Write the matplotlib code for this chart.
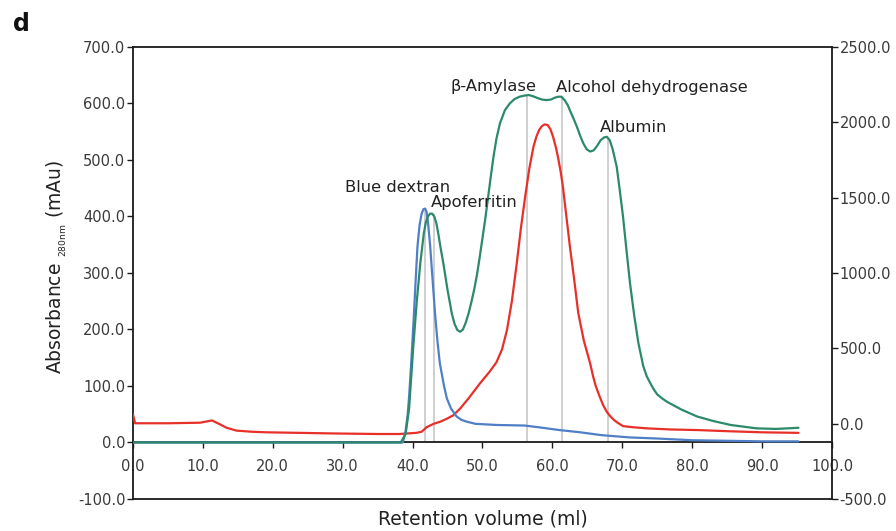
import matplotlib
matplotlib.use("Agg")
import matplotlib.pyplot as plt
from matplotlib.ticker import FormatStrFormatter

plt.rcParams['font.family'] = ['DejaVu Sans']
plt.rcParams['mathtext.fontset'] = 'dejavusans'

# ---- data (left-axis units, mAu) ----
blue_x = [0, 20, 38.6, 39.0, 39.3, 39.5, 39.85, 40.2, 40.45, 40.7, 41.0, 41.3, 41.55, 41.8,
          42.0, 42.2, 42.5, 42.85, 43.2, 43.55, 43.9, 44.5, 44.9, 45.5, 46.3, 47.0, 47.7,
          49, 52, 56, 58, 61, 64, 67, 71, 75, 80, 85, 90, 95.2]
blue_y = [0, 0, 0, 20, 50, 81, 150, 229, 290, 347, 385, 405, 413, 414,
          408, 390, 350, 290, 230, 180, 140, 100, 78, 60, 46, 40, 37,
          33, 31, 30, 27, 22, 18, 13, 9, 7, 4, 3, 2, 2]

green_x = [0, 38.3, 39.0, 39.5, 40.1, 40.6, 41.1, 41.6, 41.9, 42.2, 42.5, 42.8, 43.1, 43.4,
           43.7, 44.0, 44.4, 45.0, 45.6, 46.0, 46.4, 46.8, 47.2, 47.6, 48.0, 48.4, 48.8,
           49.2, 49.6, 50.0, 50.4, 50.8, 51.2, 51.6, 52.0, 52.5, 53.2, 53.9, 54.6, 55.3,
           56.0, 56.6, 57.2, 57.8, 58.5, 59.2, 59.8, 60.3, 60.8, 61.3, 61.8, 62.2, 62.5,
           63.0, 63.5, 64.0, 64.4, 64.9, 65.4, 65.9, 66.4, 66.9, 67.4, 67.8, 68.2, 68.6,
           69.2, 69.6, 70.1, 70.6, 71.1, 71.7, 72.3, 73.0, 73.5, 74.0, 74.5, 75.0, 75.7,
           76.4, 78.5, 80.7, 83, 85.5, 89.2, 92, 95.2]
green_y = [0, 0, 15, 60, 170, 250, 317, 370, 390, 400, 405, 405, 400, 388,
           368, 345, 317, 270, 229, 210, 199, 196, 200, 212, 228, 248, 270,
           296, 328, 362, 396, 434, 472, 508, 538, 565, 588, 600, 608, 612,
           614, 615, 613, 610, 607, 606, 607, 610, 612, 612, 605, 597, 588,
           574, 559, 542, 530, 519, 515, 517, 525, 535, 540, 541, 535, 520,
           488, 450, 400, 340, 282, 225, 176, 135, 117, 105, 94, 85, 78,
           72, 58, 46, 38, 31, 25, 24, 26]

red_x = [0, 0.3, 5, 9.6, 11.3, 12.3, 13.4, 14.8, 17, 19.1, 24, 28.6, 35, 38.1, 40.5, 41.3,
         42.0, 43.0, 44.0, 44.9, 45.8, 46.8, 48.0, 49.6, 51.0, 52.0, 52.8, 53.5, 54.2, 54.9,
         55.5, 56.1, 56.7, 57.3, 57.7, 58.1, 58.5, 58.9, 59.3, 59.7, 60.1, 60.5, 60.8, 61.2,
         61.5, 62.0, 62.5, 63.1, 63.7, 64.5, 65.4, 65.8, 66.2, 66.8, 67.3, 67.8, 68.3, 68.8,
         69.2, 69.7, 70.1, 70.8, 71.5, 73.5, 77, 80.7, 85, 90, 95.2]
red_y = [50, 34, 34, 35, 39, 33, 26, 21, 19, 18, 17, 16, 15, 15, 17, 19,
         27, 33, 37, 42, 48, 60, 78, 104, 125, 142, 165, 199, 250, 317,
         380, 435, 485, 524, 541, 553, 560, 563, 562, 555, 541, 522, 505, 478,
         453, 400, 347, 290, 229, 180, 140, 118, 100, 80, 65, 54, 46, 40,
         36, 32, 29, 28, 27, 25, 23, 22, 20, 18, 17]

marker_names = ["Blue dextran", "Apoferritin", "\u03b2-Amylase", "Alcohol dehydrogenase", "Albumin"]
marker_x = [41.8, 43.0, 56.4, 61.4, 67.9]
marker_top = [414, 404, 615, 612, 541]
label_x = [37.9, 42.6, 51.6, 60.5, 66.8]
label_y = [452, 424, 630, 629, 557]
label_ha = ["center", "left", "center", "left", "left"]

x_ticks = list(range(0, 101, 10))
left_ticks = list(range(-100, 701, 100))
right_ticks = list(range(-500, 2501, 500))

# ---- figure ----
fig = plt.figure(figsize=(8.96, 5.31), dpi=100)
ax = fig.add_axes([0.1484, 0.0603, 0.7802, 0.8512])
ax.set_xlim(0, 100)
ax.set_ylim(-100, 700)

tick_col = "#3a3a3a"
spine_col = "#1a1a1a"

for xv, top in zip(marker_x, marker_top):
    ax.vlines(xv, 0, top, colors="#cfcfcf", linewidth=1.4, zorder=1)

kw = dict(lw=1.6, solid_joinstyle='round', solid_capstyle='round')
ax.plot(red_x, red_y, color="#e8302a", zorder=3, **kw)
ax.plot(blue_x, blue_y, color="#4f7fc6", zorder=4, **kw)
ax.plot(green_x, green_y, color="#2c8a69", zorder=5, **kw)

for name, lx, ly, ha in zip(marker_names, label_x, label_y, label_ha):
    ax.text(lx, ly, name, ha=ha, va="center", fontsize=11.8, color="#222222", zorder=6)

ax.spines['bottom'].set_position(('data', 0))
ax.spines['top'].set_visible(False)
ax.spines['right'].set_visible(False)
for s in ['left', 'bottom']:
    ax.spines[s].set_color(spine_col)
    ax.spines[s].set_linewidth(1.3)

ax.set_xticks(x_ticks)
ax.set_yticks(left_ticks)
ax.xaxis.set_major_formatter(FormatStrFormatter('%.1f'))
ax.yaxis.set_major_formatter(FormatStrFormatter('%.1f'))
ax.tick_params(axis='x', direction='out', length=4, width=1, colors=spine_col,
               labelcolor=tick_col, labelsize=10.5, pad=8)
ax.tick_params(axis='y', direction='out', length=4, width=1, colors=spine_col,
               labelcolor=tick_col, labelsize=10.5, pad=1.5)

ax2 = ax.twinx()
ax2.set_ylim(-500, 2500)
ax2.set_yticks(right_ticks)
ax2.yaxis.set_major_formatter(FormatStrFormatter('%.1f'))
ax2.tick_params(axis='y', direction='out', length=4, width=1, colors=spine_col,
                labelcolor=tick_col, labelsize=10.5, pad=1.5)
ax2.spines['left'].set_visible(False)
for s in ['right', 'top', 'bottom']:
    ax2.spines[s].set_color(spine_col)
    ax2.spines[s].set_linewidth(1.3)

ax.set_ylabel('Absorbance $_{_{\\mathregular{280nm}}}$ (mAu)', fontsize=13.5, color="#222222")
ax.yaxis.set_label_coords(-0.092, 0.513)
fig.text(0.539, 0.0226, 'Retention volume (ml)', ha='center', va='center', fontsize=13.5, color="#222222")
fig.text(0.015, 0.955, 'd', fontsize=17, fontweight='bold', ha='left', va='center', color="#111111")

fig.savefig("out.png", dpi=100)
